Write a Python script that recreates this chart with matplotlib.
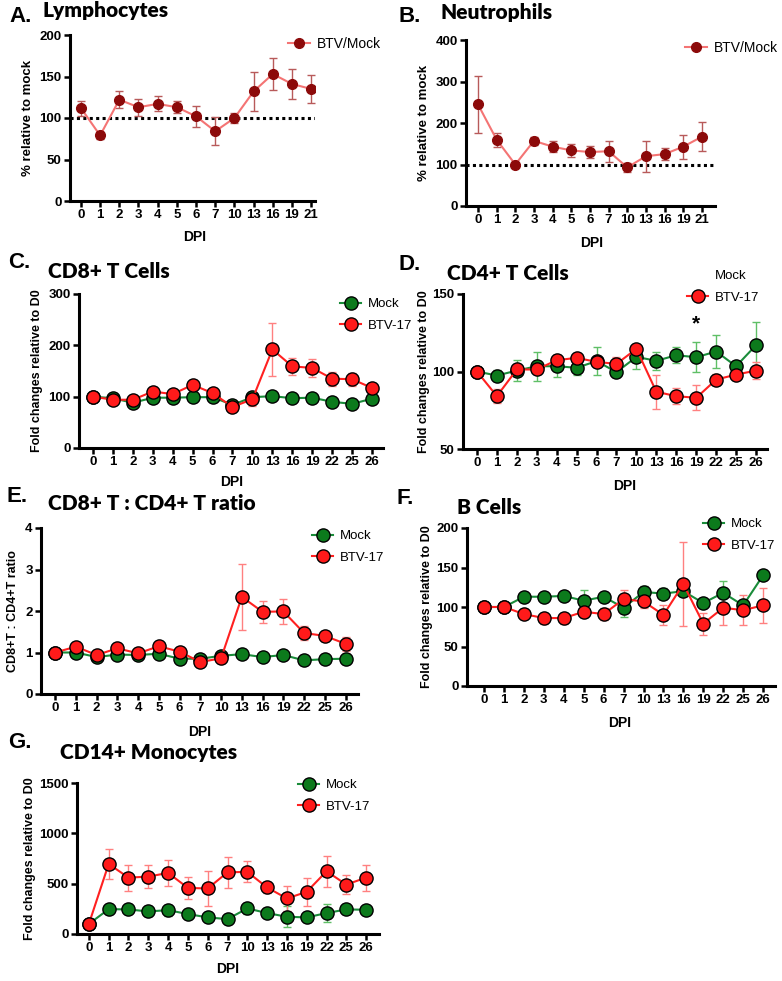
import numpy as np
import matplotlib
matplotlib.use('Agg')
import matplotlib.pyplot as plt
from matplotlib.lines import Line2D

plt.rcParams['font.family'] = ['Liberation Sans', 'DejaVu Sans']

W, H = 782, 981

# ---- data ----
DPI_AB = ['0', '1', '2', '3', '4', '5', '6', '7', '10', '13', '16', '19', '21']
DPI_CG = ['0', '1', '2', '3', '4', '5', '6', '7', '10', '13', '16', '19', '22', '25', '26']

lymph_mean = [112, 79, 122, 113, 117, 113, 102, 84, 100, 132, 153, 141, 135]
lymph_err = [9, 4, 10, 10, 9, 7, 12.5, 17, 6, 24, 19, 18, 17]
neut_mean = [245, 160, 100, 157, 143, 134, 130, 132, 93, 120, 125, 143, 167]
neut_err = [69, 17, 5, 9, 13, 15, 15, 25, 11.5, 37, 13.7, 29, 35]

cd8_mock = [100, 97, 88, 98, 98, 99, 99, 84, 99, 101, 97, 98, 90, 86, 96]
cd8_mock_err = [2, 3, 3, 3, 3, 3, 3, 3, 8, 3, 3, 3, 3, 3, 3]
cd8_btv = [100, 94, 94, 110, 105, 123, 107, 80, 95, 192, 159, 156, 135, 134, 117]
cd8_btv_err = [3, 8, 8, 9, 6, 10, 7, 4, 13, 51, 16, 18, 14, 13, 9]

cd4_mock = [100, 97.4, 100.6, 103.4, 103.4, 102.4, 106.7, 99.6, 109.4, 106.9, 110.5, 109.2, 112.9, 103.4, 117]
cd4_mock_err = [1, 3.5, 7, 9.5, 7, 4.5, 9, 3, 8, 6, 5, 9.7, 10.7, 3, 15]
cd4_btv = [100, 84.1, 101.3, 101.3, 107.3, 108.8, 106.2, 104.9, 114.6, 86.9, 84.1, 83, 94.8, 98, 100.6]
cd4_btv_err = [1, 4.3, 2, 2, 3.5, 2.7, 3, 4.2, 2.5, 10.8, 5.2, 8, 3.6, 3, 5.7]

ratio_mock = [1.0, 1.0, 0.89, 0.95, 0.94, 0.97, 0.85, 0.85, 0.92, 0.96, 0.89, 0.94, 0.81, 0.84, 0.85]
ratio_mock_err = [0.02, 0.04, 0.05, 0.04, 0.04, 0.04, 0.04, 0.04, 0.05, 0.03, 0.03, 0.04, 0.04, 0.04, 0.12]
ratio_btv = [1.0, 1.14, 0.94, 1.1, 0.98, 1.15, 1.02, 0.77, 0.86, 2.34, 1.98, 1.99, 1.47, 1.40, 1.21]
ratio_btv_err = [0.02, 0.05, 0.05, 0.05, 0.04, 0.05, 0.05, 0.05, 0.12, 0.79, 0.27, 0.3, 0.17, 0.13, 0.17]

bcell_mock = [100, 100, 113, 113, 114, 108, 113, 99, 119, 117, 120, 105, 118, 102, 140]
bcell_mock_err = [1, 1, 2, 2, 2, 14, 3, 12, 8, 7, 3, 3, 15, 5, 3]
bcell_btv = [100, 100, 91, 86, 86, 94, 91, 110, 107, 90, 129, 79, 99, 96, 102]
bcell_btv_err = [1, 1, 6, 7, 7, 7, 8, 12, 8.5, 13, 53, 14, 22, 19, 22]

cd14_mock = [100, 247, 244, 224, 237, 198, 165, 148, 254, 208, 171, 165, 208, 244, 241]
cd14_mock_err = [5, 20, 20, 50, 55, 20, 20, 15, 55, 30, 105, 45, 90, 50, 40]
cd14_btv = [100, 696, 560, 570, 607, 458, 452, 613, 617, 462, 353, 419, 623, 491, 560]
cd14_btv_err = [5, 148, 128, 113, 132, 112, 170, 153, 104, 57, 120, 138, 153, 94, 130]

# colours
DARKRED, SALMON, ERR_DR = '#8c0a0a', '#f47474', '#b85a5a'
GREEN, GREEN_LN, GREEN_ERR = '#0c7a1c', '#1a8c3a', '#5fbf66'
RED, RED_LN, RED_ERR = '#ff1a1a', '#ff2020', '#ff8080'

TITLE_FONT = 'Lato'


def rect(l, t, r, b):
    return [l / W, 1 - b / H, (r - l) / W, (b - t) / H]


def style_axes(ax, xlim, ylim, yticks, labels):
    ax.set_xlim(*xlim)
    ax.set_ylim(*ylim)
    ax.set_xticks(range(len(labels)))
    ax.set_xticklabels(labels)
    ax.set_yticks(yticks)
    for s in ['top', 'right']:
        ax.spines[s].set_visible(False)
    for s in ['left', 'bottom']:
        ax.spines[s].set_linewidth(2.2)
    ax.tick_params(direction='out', length=4, width=1.8, labelsize=9.5, pad=2)
    for lab in ax.get_xticklabels() + ax.get_yticklabels():
        lab.set_fontweight('bold')


def labels(ax, ylabel, ylab_x, dpi_xy, ysize=9):
    ax.set_ylabel(ylabel, fontsize=ysize, fontweight='bold')
    bb = ax.get_position()
    ax.yaxis.set_label_coords(ylab_x / W, (bb.y0 + bb.y1) / 2, transform=fig.transFigure)
    ax.yaxis.label.set_va('center')
    ax.set_xlabel('DPI', fontsize=10, fontweight='bold')
    ax.xaxis.set_label_coords(dpi_xy[0] / W, 1 - dpi_xy[1] / H, transform=fig.transFigure)
    ax.xaxis.label.set_va('center')


def heading(letter, lxy, title, txy):
    fig.text(lxy[0] / W, 1 - lxy[1] / H, letter, fontsize=16, fontweight='bold', va='center')
    fig.text(txy[0] / W, 1 - txy[1] / H, title, fontsize=15, fontweight='heavy',
             family=TITLE_FONT, va='center')


def two_series(ax, x, mock, mock_err, btv, btv_err):
    ax.errorbar(x, mock, yerr=mock_err, fmt='none', ecolor=GREEN_ERR, elinewidth=1, capsize=3, zorder=2)
    ax.errorbar(x, btv, yerr=btv_err, fmt='none', ecolor=RED_ERR, elinewidth=1, capsize=3, zorder=2)
    ax.plot(x, mock, '-o', color=GREEN_LN, lw=1.5, ms=9.5, mfc=GREEN, mec='black', mew=1, zorder=3)
    ax.plot(x, btv, '-o', color=RED_LN, lw=1.5, ms=9.5, mfc=RED, mec='black', mew=1, zorder=4)


def two_legend(ax, xy, mock_marker=True):
    h_mock = Line2D([], [], color=GREEN_LN, lw=1.5, marker='o', ms=9.5, mfc=GREEN, mec='black', mew=1)
    if not mock_marker:
        h_mock = Line2D([], [], lw=0, marker=None)
    h_btv = Line2D([], [], color=RED_LN, lw=1.5, marker='o', ms=9.5, mfc=RED, mec='black', mew=1)
    ax.legend([h_mock, h_btv], ['Mock', 'BTV-17'], loc='upper left',
              bbox_to_anchor=(xy[0] / W, 1 - xy[1] / H), bbox_transform=fig.transFigure,
              frameon=False, fontsize=9.5, borderpad=0, handlelength=1.6, handletextpad=0.5,
              labelspacing=0.7, borderaxespad=0)


fig = plt.figure(figsize=(W / 100, H / 100), dpi=100)

# ---- A. Lymphocytes ----
axA = fig.add_axes(rect(70, 35, 315, 201))
xa = np.arange(len(DPI_AB))
axA.axhline(100, color='black', lw=2.2, ls=(0, (1, 1.1)), zorder=1)
axA.errorbar(xa, lymph_mean, yerr=lymph_err, fmt='none', ecolor=ERR_DR, elinewidth=1, capsize=3, zorder=2)
axA.plot(xa, lymph_mean, '-o', color=SALMON, lw=1.5, ms=7, mfc=DARKRED, mec=DARKRED, zorder=3,
         label='BTV/Mock')
style_axes(axA, (-0.57, 12.2), (0, 200), [0, 50, 100, 150, 200], DPI_AB)
labels(axA, '% relative to mock', 28, (195, 237), ysize=9.5)
axA.legend(loc='upper left', bbox_to_anchor=(288 / W, 1 - 37 / H), bbox_transform=fig.transFigure,
           frameon=False, fontsize=10, borderpad=0, handlelength=1.6, handletextpad=0.5, borderaxespad=0)
heading('A.', (9, 16), 'Lymphocytes', (43, 11))

# ---- B. Neutrophils ----
axB = fig.add_axes(rect(466, 40, 715, 206))
axB.axhline(100, color='black', lw=2.2, ls=(0, (1, 1.1)), zorder=1)
axB.errorbar(xa, neut_mean, yerr=neut_err, fmt='none', ecolor=ERR_DR, elinewidth=1, capsize=3, zorder=2)
axB.plot(xa, neut_mean, '-o', color=SALMON, lw=1.5, ms=7, mfc=DARKRED, mec=DARKRED, zorder=3,
         label='BTV/Mock')
style_axes(axB, (-0.64, 12.7), (0, 400), [0, 100, 200, 300, 400], DPI_AB)
labels(axB, '% relative to mock', 424, (592, 243), ysize=9.5)
axB.legend(loc='upper left', bbox_to_anchor=(685 / W, 1 - 41 / H), bbox_transform=fig.transFigure,
           frameon=False, fontsize=10, borderpad=0, handlelength=1.6, handletextpad=0.5, borderaxespad=0)
heading('B.', (398, 16), 'Neutrophils', (440, 12))

xc = np.arange(len(DPI_CG))

# ---- C. CD8+ T cells ----
axC = fig.add_axes(rect(79, 294, 383, 448))
two_series(axC, xc, cd8_mock, cd8_mock_err, cd8_btv, cd8_btv_err)
style_axes(axC, (-0.7, 14.55), (0, 300), [0, 100, 200, 300], DPI_CG)
labels(axC, 'Fold changes relative to D0', 37, (232, 482))
two_legend(axC, (340, 298))
heading('C.', (8, 263), 'CD8+ T Cells', (48, 272))

# ---- D. CD4+ T cells ----
axD = fig.add_axes(rect(463, 294, 767, 449))
two_series(axD, xc, cd4_mock, cd4_mock_err, cd4_btv, cd4_btv_err)
style_axes(axD, (-0.7, 14.55), (50, 150), [50, 100, 150], DPI_CG)
labels(axD, 'Fold changes relative to D0', 424, (625, 486))
two_legend(axD, (687, 270), mock_marker=False)
axD.text(xc[DPI_CG.index('19')], 130.5, '*', ha='center', va='center', fontsize=15, fontweight='bold')
heading('D.', (398, 265), 'CD4+ T Cells', (447, 273))

# ---- E. CD8+ : CD4+ ratio ----
axE = fig.add_axes(rect(41, 528, 358, 694))
two_series(axE, xc, ratio_mock, ratio_mock_err, ratio_btv, ratio_btv_err)
style_axes(axE, (-0.68, 14.6), (0, 4), [0, 1, 2, 3, 4], DPI_CG)
labels(axE, 'CD8+T : CD4+T ratio', 13, (200, 732))
two_legend(axE, (312, 530))
heading('E.', (6, 497), 'CD8+ T : CD4+ T ratio', (48, 503))

# ---- F. B cells ----
axF = fig.add_axes(rect(467, 528, 775, 686))
two_series(axF, xc, bcell_mock, bcell_mock_err, bcell_btv, bcell_btv_err)
style_axes(axF, (-0.86, 14.6), (0, 200), [0, 50, 100, 150, 200], DPI_CG)
labels(axF, 'Fold changes relative to D0', 427, (620, 723))
two_legend(axF, (703, 518))
heading('F.', (396, 498), 'B Cells', (457, 508))

# ---- G. CD14+ monocytes ----
axG = fig.add_axes(rect(77, 783, 379, 934))
two_series(axG, xc, cd14_mock, cd14_mock_err, cd14_btv, cd14_btv_err)
style_axes(axG, (-0.6, 14.65), (0, 1500), [0, 500, 1000, 1500], DPI_CG)
labels(axG, 'Fold changes relative to D0', 30, (228, 969))
two_legend(axG, (298, 779))
heading('G.', (8, 742), 'CD14+ Monocytes', (60, 753))

fig.savefig('out.png', dpi=100)
